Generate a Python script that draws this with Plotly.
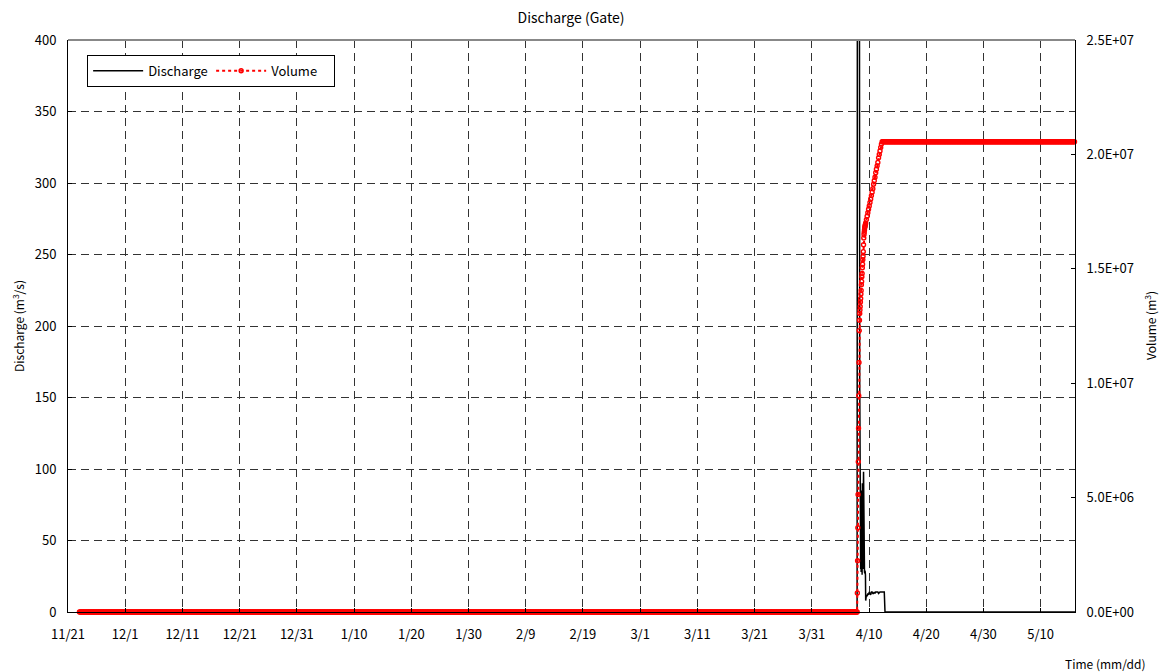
import numpy as np
import pandas as pd
import plotly.graph_objects as go

# ---- record definition -------------------------------------------------
RECORD_START = "2018-11-23 00:00"
EVENT_START = "2019-04-07 22:00"
RECORD_END = "2019-05-17 00:00"
BASE_STEP_H = 3

# hourly readings during the first 36 hours of the gate release
event_hours = list(range(0, 37))
event_discharge = [0, 408, 415, 420, 418, 415, 412, 410, 406, 405, 404, 160, 32,
                   45, 70, 30, 78, 28, 85, 36, 72, 26, 90, 40, 62, 30, 80, 98,
                   45, 30, 29, 28, 27, 29, 28, 26, 8]
event_volume_m = [0, 0.83, 2.24, 3.68, 5.14, 6.57, 8.03, 9.45, 10.91, 12.30,
                  12.75, 13.05, 13.2, 13.35, 13.55, 13.7, 13.9, 14.05, 14.3,
                  14.45, 14.65, 14.8, 15.05, 15.2, 15.4, 15.55, 15.75, 16.05,
                  16.35, 16.5, 16.6, 16.7, 16.8, 16.85, 16.9, 16.95, 17.0]

# 3-hourly readings during the recession
recess_hours = list(range(39, 118, 3))
recess_discharge = [12, 11, 13, 12, 14, 13, 12, 14, 14, 13, 13, 14, 13, 14,
                    14, 14, 14, 13, 14, 14, 14, 14, 14, 14, 14, 14, 0]
recess_volume_m = [17.15, 17.3, 17.45, 17.6, 17.75, 17.9, 18.05, 18.2, 18.35,
                   18.5, 18.7, 18.85, 19.0, 19.2, 19.35, 19.5, 19.65, 19.85,
                   20.0, 20.15, 20.3, 20.45, 20.55, 20.55, 20.55, 20.55, 20.55]

DISCHARGE_IDLE = 0.0
VOLUME_INITIAL = 0.0
VOLUME_FINAL_M = 20.55

# axis ticks
y2_tickvals = [0, 5e6, 1e7, 1.5e7, 2e7, 2.5e7]
y2_ticktext = ["0.0E+00", "5.0E+06", "1.0E+07", "1.5E+07", "2.0E+07", "2.5E+07"]

# ---- assemble series ---------------------------------------------------
t0 = pd.Timestamp(EVENT_START)
step = pd.Timedelta(hours=BASE_STEP_H)
pre_times = pd.date_range(RECORD_START, t0, freq=step, inclusive="left")
post_start = t0 + pd.Timedelta(hours=recess_hours[-1]) + step
post_times = pd.date_range(post_start, RECORD_END, freq=step)
event_times = t0 + pd.to_timedelta(event_hours, unit="h")
recess_times = t0 + pd.to_timedelta(recess_hours, unit="h")

times = pre_times.append(event_times).append(recess_times).append(post_times)
discharge = np.concatenate([
    np.full(len(pre_times), DISCHARGE_IDLE),
    event_discharge,
    recess_discharge,
    np.full(len(post_times), DISCHARGE_IDLE),
])
volume = np.concatenate([
    np.full(len(pre_times), VOLUME_INITIAL),
    np.array(event_volume_m) * 1e6,
    np.array(recess_volume_m) * 1e6,
    np.full(len(post_times), VOLUME_FINAL_M * 1e6),
])

FONT = "Noto Sans CJK JP, Noto Sans, sans-serif"

fig = go.Figure()
fig.add_trace(go.Scatter(
    x=times, y=discharge, name="Discharge", mode="lines",
    line=dict(color="black", width=1.5),
))
fig.add_trace(go.Scatter(
    x=times, y=volume, name="Volume", mode="lines+markers", yaxis="y2",
    line=dict(color="#ff0000", width=2, dash="3px,3px"),
    marker=dict(symbol="circle-open", size=4, color="#ff0000",
                line=dict(color="#ff0000", width=1.4)),
    cliponaxis=False,
))

grid = dict(showgrid=True, gridcolor="#333333", gridwidth=1, griddash="8px,5px")

fig.update_layout(
    width=1163, height=672,
    margin=dict(l=68, r=88, t=40, b=60),
    paper_bgcolor="white", plot_bgcolor="white",
    font=dict(family=FONT, size=12, color="black"),
    title=dict(text="Discharge (Gate)", x=0.491, xanchor="center",
               y=1 - 18 / 672, yanchor="middle", font=dict(size=14)),
    showlegend=True,
    legend=dict(orientation="h", x=0.019, y=0.974, xanchor="left", yanchor="top",
                bgcolor="white", bordercolor="black", borderwidth=1,
                font=dict(size=13), itemwidth=50, entrywidth=58,
                entrywidthmode="pixels"),
    xaxis=dict(
        type="date", range=["2018-11-21", "2019-05-16"],
        tick0="2018-11-21", dtick=10 * 86400000, tickformat="%-m/%-d",
        showline=True, linecolor="black", linewidth=1,
        ticks="inside", ticklen=4, tickcolor="black",
        ticklabelstandoff=10, tickfont=dict(size=13),
        zeroline=False, **grid,
    ),
    yaxis=dict(
        range=[0, 400], dtick=50, tickformat="d",
        showline=True, linecolor="black", linewidth=1,
        ticks="inside", ticklen=4, tickcolor="black",
        ticklabelstandoff=8, tickfont=dict(size=13),
        zeroline=False, **grid,
    ),
    yaxis2=dict(
        range=[0, 2.5e7], overlaying="y", side="right",
        tickvals=y2_tickvals, ticktext=y2_ticktext,
        showline=True, linecolor="black", linewidth=1,
        ticks="inside", ticklen=4, tickcolor="black",
        ticklabelstandoff=8, tickfont=dict(size=13),
        showgrid=False, zeroline=False,
    ),
    shapes=[dict(type="line", xref="paper", yref="paper", x0=0, x1=1, y0=1, y1=1,
                 line=dict(color="#888888", width=2))],
    annotations=[
        dict(text="Discharge (m<sup>3</sup>/s)", xref="paper", yref="paper",
             x=(18 - 68) / 1007, y=0.5, textangle=-90, showarrow=False,
             xanchor="center", yanchor="middle", font=dict(size=12)),
        dict(text="Volume (m<sup>3</sup>)", xref="paper", yref="paper",
             x=(1150 - 68) / 1007, y=0.5, textangle=-90, showarrow=False,
             xanchor="center", yanchor="middle", font=dict(size=12)),
        dict(text="Time (mm/dd)", xref="paper", yref="paper",
             x=(1105 - 68) / 1007, y=(612 - 663) / 572, showarrow=False,
             xanchor="center", yanchor="middle", font=dict(size=12)),
    ],
)

fig.write_html("out.html")
